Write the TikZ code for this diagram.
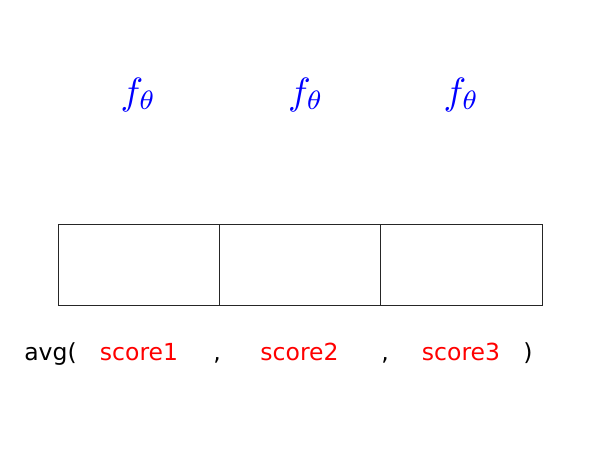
\documentclass[tikz,border=0pt]{standalone}
\usepackage{fontspec}
\newfontfamily\dejavu{DejaVu Sans}
\begin{document}
\begin{tikzpicture}[x=1pt,y=-1pt,
  cell/.style={draw=black!85,line width=0.8pt,minimum width=161.3pt,minimum height=81pt,inner sep=0pt},
  ftheta/.style={text=blue,anchor=base,inner sep=0pt,scale=3.8},
  lbl/.style={anchor=base,inner sep=0pt,font=\dejavu\fontsize{23.5}{28}\selectfont},
  score/.style={lbl,text=red}]
\useasboundingbox (0,0) rectangle (600,450);
\node[ftheta] (f1) at (138.5,104) {$f_\theta$};
\node[ftheta] (f2) at (306,104) {$f_\theta$};
\node[ftheta] (f3) at (461.5,104) {$f_\theta$};
\node[cell] (b1) at (138.65,264.5) {};
\node[cell] (b2) at (299.95,264.5) {};
\node[cell] (b3) at (461.25,264.5) {};
\node[lbl] (avg) at (50.5,360) {avg(};
\node[score] (s1) at (139,360) {score1};
\node[lbl] (c1) at (217,360) {,};
\node[score] (s2) at (299.5,360) {score2};
\node[lbl] (c2) at (385,360) {,};
\node[score] (s3) at (461,360) {score3};
\node[lbl] (cl) at (528,360) {)};
\end{tikzpicture}
\end{document}
